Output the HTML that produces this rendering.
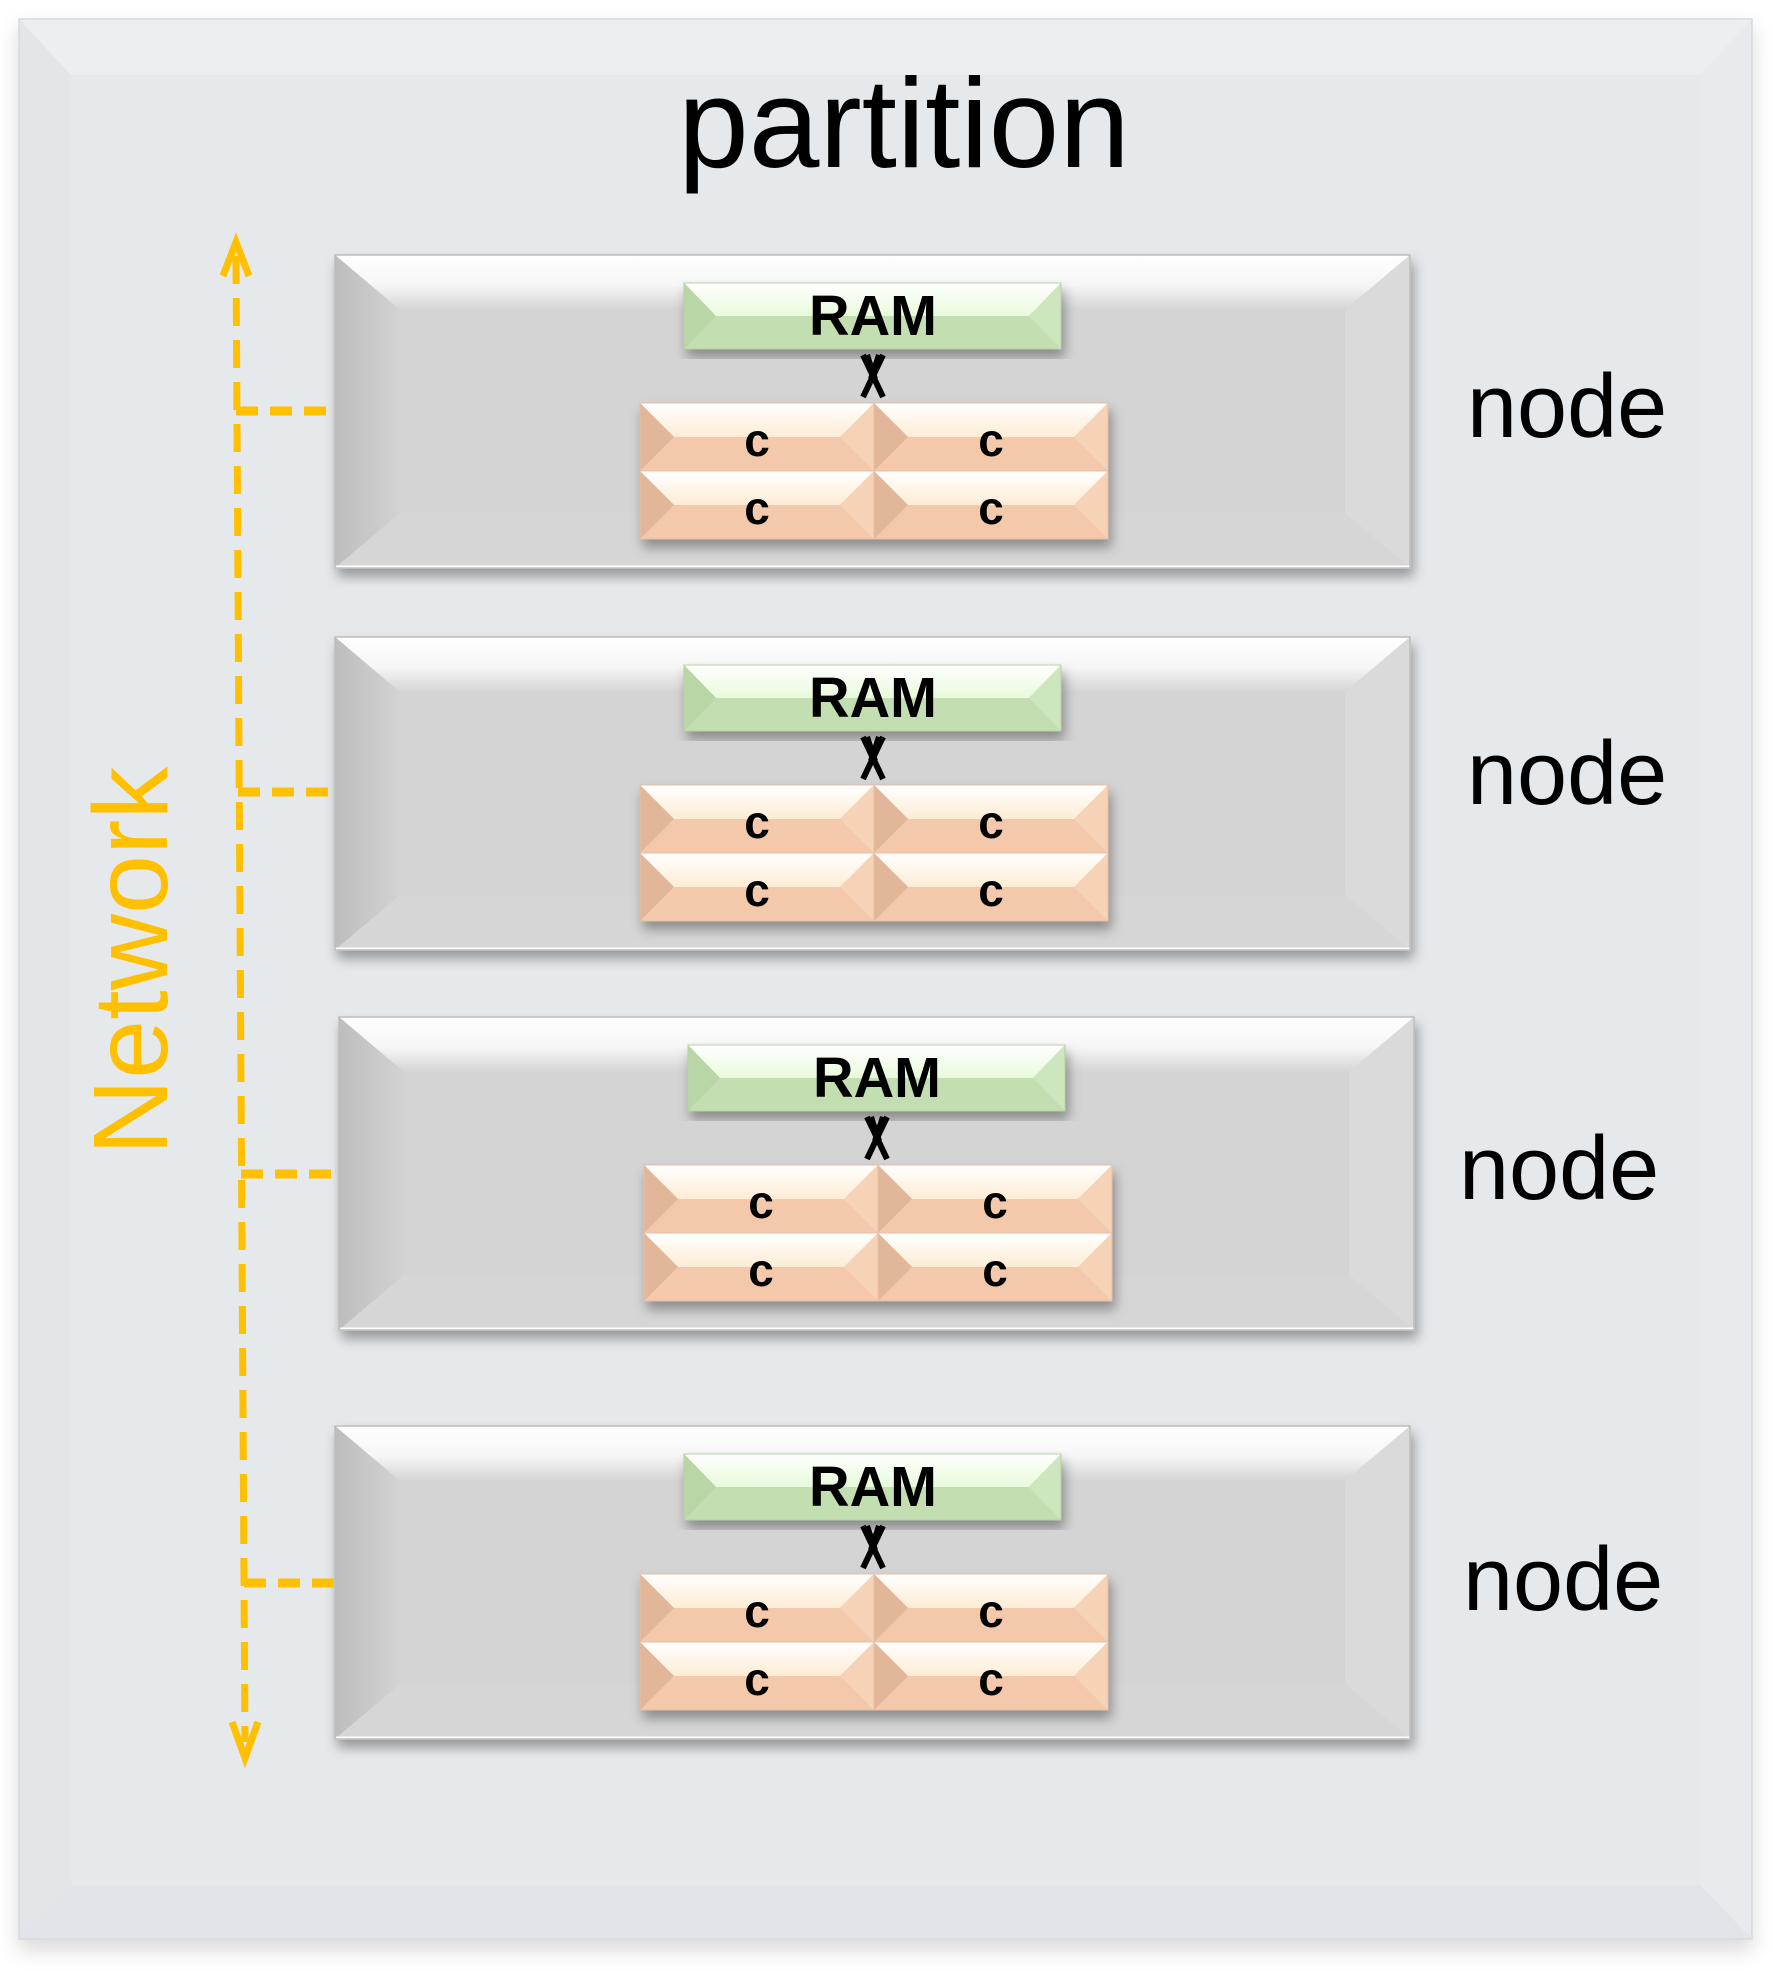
<!DOCTYPE html>
<html><head><meta charset="utf-8"><style>
html,body{margin:0;padding:0;background:#fff;}
svg{display:block;font-family:"Liberation Sans",Arial,sans-serif;}
</style></head><body>
<svg width="1773" height="1970" viewBox="0 0 1773 1970" xmlns="http://www.w3.org/2000/svg">
<defs>
<filter id="sh" x="-5%" y="-5%" width="110%" height="120%"><feDropShadow dx="3" dy="8" stdDeviation="6" flood-color="#000" flood-opacity="0.35"/></filter>
<filter id="sh2" x="-5%" y="-5%" width="110%" height="110%"><feDropShadow dx="0" dy="10" stdDeviation="10" flood-color="#000" flood-opacity="0.15"/></filter>
<linearGradient id="ntop" x1="0" y1="0" x2="0" y2="1"><stop offset="0" stop-color="#fff"/><stop offset="0.55" stop-color="#f6f6f6"/><stop offset="1" stop-color="#d4d4d4"/></linearGradient>
<linearGradient id="nleft" x1="0" y1="0" x2="1" y2="0"><stop offset="0" stop-color="#bdbdbd"/><stop offset="1" stop-color="#d3d3d3"/></linearGradient>
<linearGradient id="rtop" x1="0" y1="0" x2="0" y2="1"><stop offset="0" stop-color="#fff"/><stop offset="1" stop-color="#e8fadb"/></linearGradient>
<linearGradient id="ctop" x1="0" y1="0" x2="0" y2="1"><stop offset="0" stop-color="#fff"/><stop offset="1" stop-color="#feecd4"/></linearGradient>
<g id="ram">
<rect x="0" y="0" width="377" height="66" fill="#c3dfb2"/>
<polygon points="0,0 377,0 345,33 32,33" fill="url(#rtop)"/>
<polygon points="0,0 32,33 0,66" fill="#b8d6a6"/>
<polygon points="377,0 345,33 377,66" fill="#cde6bd"/>
<rect x="0" y="0" width="377" height="66" fill="none" stroke="#b7d3a6" stroke-width="1"/>
</g>
<g id="core">
<rect x="0" y="0" width="234" height="68" fill="#f4c8aa"/>
<polygon points="0,0 234,0 200,34 34,34" fill="url(#ctop)"/>
<polygon points="0,0 34,34 0,68" fill="#e2b698"/>
<polygon points="234,0 200,34 234,68" fill="#f6d2b6"/>
<rect x="0" y="0" width="234" height="68" fill="none" stroke="#e6c0a4" stroke-width="1"/>
</g>
<g id="node">
<rect x="0" y="0" width="1075" height="313" fill="#d4d4d4"/>
<polygon points="0,0 1075,0 1010,55 65,55" fill="url(#ntop)"/>
<polygon points="0,0 65,55 65,258 0,313" fill="url(#nleft)"/>
<polygon points="1075,0 1010,55 1010,258 1075,313" fill="#dadada"/>
<polygon points="0,313 65,258 1010,258 1075,313" fill="#d6d6d6"/>
<line x1="0" y1="312" x2="1075" y2="312" stroke="#fff" stroke-width="3"/>
<rect x="0" y="0" width="1075" height="313" fill="none" stroke="#bcbcbc" stroke-width="1.5"/>
<g filter="url(#sh)"><use href="#ram" x="349" y="28"/></g>
<g filter="url(#sh)">
<use href="#core" x="305" y="148"/><use href="#core" x="539" y="148"/>
<use href="#core" x="305" y="216"/><use href="#core" x="539" y="216"/>
</g>
<path d="M528,100 L548,142 M548,100 L528,142 M532,100 L540,124 M544,100 L536,124" stroke="#000" stroke-width="6" fill="none"/>
</g>
</defs>

<g filter="url(#sh2)">
<rect x="19" y="19" width="1733" height="1920" fill="#e6e9ec"/>
<polygon points="19,19 1752,19 1700,75 71,75" fill="#eceef0"/>
<polygon points="19,19 71,75 71,1885 19,1939" fill="#e3e6e9"/>
<polygon points="1752,19 1700,75 1700,1885 1752,1939" fill="#e8eaed"/>
<polygon points="19,1939 71,1885 1700,1885 1752,1939" fill="#e1e4e8"/>
<rect x="19" y="19" width="1733" height="1920" fill="none" stroke="#d6d9dc" stroke-width="1.5"/>
</g>
<text x="904" y="167" font-size="127" text-anchor="middle" fill="#000">partition</text>

<g filter="url(#sh)"><use href="#node" x="335" y="255"/></g>
<g filter="url(#sh)"><use href="#node" x="335" y="637"/></g>
<g filter="url(#sh)"><use href="#node" x="339" y="1017"/></g>
<g filter="url(#sh)"><use href="#node" x="335" y="1426"/></g>

<g font-size="57" text-anchor="middle" fill="#000" font-weight="bold" transform="scale(1,1)">
<text x="873" y="335" textLength="128" lengthAdjust="spacingAndGlyphs">RAM</text>
<text x="873" y="717" textLength="128" lengthAdjust="spacingAndGlyphs">RAM</text>
<text x="877" y="1097" textLength="128" lengthAdjust="spacingAndGlyphs">RAM</text>
<text x="873" y="1506" textLength="128" lengthAdjust="spacingAndGlyphs">RAM</text>
</g>
<g font-size="46" text-anchor="middle" fill="#000" font-weight="bold">
<text x="757" y="456">c</text><text x="991" y="456">c</text><text x="757" y="524">c</text><text x="991" y="524">c</text>
<text x="757" y="838">c</text><text x="991" y="838">c</text><text x="757" y="906">c</text><text x="991" y="906">c</text>
<text x="761" y="1218">c</text><text x="995" y="1218">c</text><text x="761" y="1286">c</text><text x="995" y="1286">c</text>
<text x="757" y="1627">c</text><text x="991" y="1627">c</text><text x="757" y="1695">c</text><text x="991" y="1695">c</text>
</g>

<g font-size="90" fill="#000">
<text x="1467" y="437">node</text><text x="1467" y="804">node</text><text x="1459" y="1199">node</text><text x="1463" y="1610">node</text>
</g>

<g stroke="#FFC000" stroke-width="7" fill="none">
<line x1="236" y1="256" x2="245" y2="1742" stroke-dasharray="28,14"/>
<polyline points="223,276 236,242 249,276"/>
<polyline points="232,1722 245,1758 258,1722"/>
<line x1="236" y1="411" x2="335" y2="411" stroke-width="9" stroke-dasharray="22,12"/>
<line x1="238" y1="792" x2="335" y2="792" stroke-width="9" stroke-dasharray="22,12"/>
<line x1="241" y1="1174" x2="339" y2="1174" stroke-width="9" stroke-dasharray="22,12"/>
<line x1="244" y1="1583" x2="335" y2="1583" stroke-width="9" stroke-dasharray="22,12"/>
</g>
<text x="0" y="0" transform="translate(167,961) rotate(-90)" font-size="106" text-anchor="middle" fill="#FFC000">Network</text>
</svg>
</body></html>
